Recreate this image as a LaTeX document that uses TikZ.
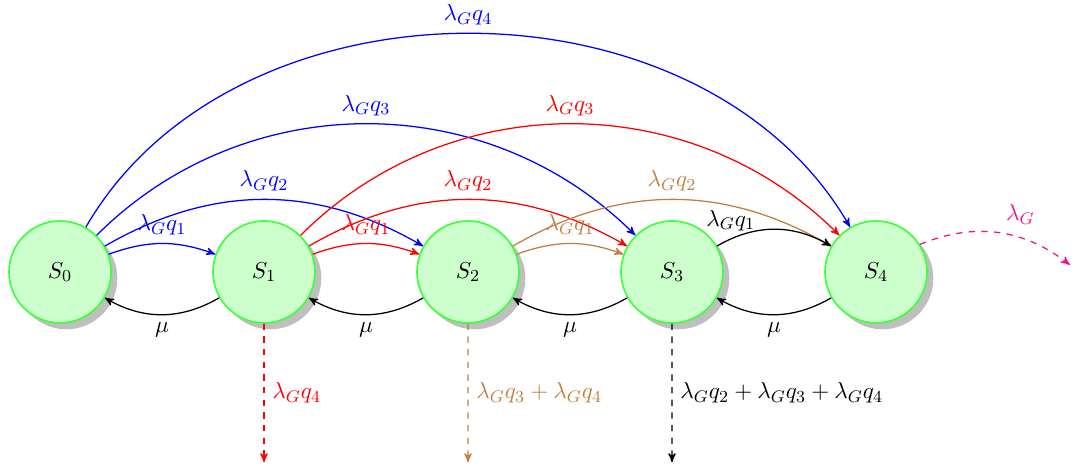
\documentclass[11pt,tikz,border=0pt]{standalone}
\usepackage{amsmath,amssymb}
\usepackage{xcolor}
\usetikzlibrary{arrows,positioning,shadows}
\definecolor{exitpink}{RGB}{235,20,145}
\tikzset{
  state/.style={circle,thick,draw=green!75,fill=green!20,minimum size=1.7cm,
    drop shadow={fill=black!25,opacity=1,shadow xshift=3pt,shadow yshift=-3pt}},
  jump/.style={semithick,->,>=stealth'},
  leave/.style={semithick,dashed,->,>=stealth'}
}

\begin{document}
\begin{tikzpicture}
  \useasboundingbox (-1.0,-3.333) rectangle (16.95,4.533);
  \foreach \i in {0,...,4}
    \node[state] (S\i) at (3.4*\i,0) {$S_\i$};
  % service
  \foreach \i [count=\j from 0] in {1,...,4}
    \draw[jump] (S\i) to[bend left=30] node[below] {$\mu$} (S\j);
  % arrivals from S0
  \draw[jump,blue] (S0) to[bend left=20] node[above] {$\lambda_G q_1$} (S1);
  \draw[jump,blue] (S0) to[bend left=30] node[above] {$\lambda_G q_2$} (S2);
  \draw[jump,blue] (S0) to[bend left=45] node[above] {$\lambda_G q_3$} (S3);
  \draw[jump,blue] (S0) to[bend left=60] node[above] {$\lambda_G q_4$} (S4);
  % arrivals from S1
  \draw[jump,red] (S1) to[bend left=20] node[above] {$\lambda_G q_1$} (S2);
  \draw[jump,red] (S1) to[bend left=30] node[above] {$\lambda_G q_2$} (S3);
  \draw[jump,red] (S1) to[bend left=45] node[above] {$\lambda_G q_3$} (S4);
  % arrivals from S2
  \draw[jump,brown] (S2) to[bend left=20] node[above] {$\lambda_G q_1$} (S3);
  \draw[jump,brown] (S2) to[bend left=30] node[above] {$\lambda_G q_2$} (S4);
  % arrivals from S3
  \draw[jump] (S3) to[bend left=30] node[pos=0.12,above] {$\lambda_G q_1$} (S4);
  % losses
  \coordinate (d1) at (3.4,-3.17);
  \coordinate (d2) at (6.8,-3.17);
  \coordinate (d3) at (10.2,-3.17);
  \coordinate (d4) at (16.83,0.12);
  \draw[leave,red] (S1) -- node[right] {$\lambda_G q_4$} (d1);
  \draw[leave,brown] (S2) -- node[right] {$\lambda_G q_3+\lambda_G q_4$} (d2);
  \draw[leave] (S3) -- node[right] {$\lambda_G q_2+\lambda_G q_3+\lambda_G q_4$} (d3);
  \draw[leave,exitpink] (S4) to[bend left=30] node[pos=0.5,above right] {$\lambda_G$} (d4);
\end{tikzpicture}
\end{document}
